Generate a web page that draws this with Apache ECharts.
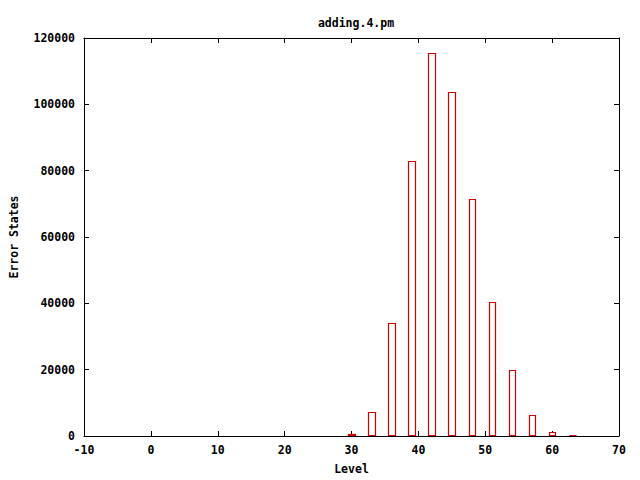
<!DOCTYPE html>
<html><head><meta charset="utf-8">
<script src="https://cdn.jsdelivr.net/npm/echarts@6/dist/echarts.min.js"></script>
<style>html,body{margin:0;padding:0;background:#fff}#c{width:640px;height:480px}</style>
</head><body><div id="c"></div>
<script>
const levels = [30, 33, 36, 39, 42, 45, 48, 51, 54, 57, 60, 63];
const errorStates = [500, 7100, 34000, 83000, 115600, 103700, 71500, 40300, 20000, 6300, 1100, 300];
const xTicks = [-10, 0, 10, 20, 30, 40, 50, 60, 70];
const yTicks = [0, 20000, 40000, 60000, 80000, 100000, 120000];
const titleText = 'adding.4.pm';
const xName = 'Level';
const yName = 'Error States';

const font = 'DejaVu Sans Mono';
const txt = {color:'#000', fontFamily:font, fontWeight:'bold', fontSize:11.5};
const chart = echarts.init(document.getElementById('c'), null, {renderer:'svg'});
const axLine = {show:true, onZero:false, lineStyle:{color:'#000', width:1}};
const tick = {show:true, inside:true, length:5, lineStyle:{color:'#000'}};
const plain = v => String(v);
chart.setOption({
  animation:false,
  backgroundColor:'#fff',
  title:{text:titleText, left:351, top:12, textAlign:'center', textStyle:Object.assign({}, txt)},
  grid:{left:83, right:21, top:38, bottom:40, containLabel:false},
  xAxis:[
    {type:'value', position:'bottom', min:xTicks[0], max:xTicks[xTicks.length-1], interval:10,
     axisLine:axLine, axisTick:tick, splitLine:{show:false},
     axisLabel:Object.assign({margin:8, formatter:plain}, txt),
     name:xName, nameLocation:'middle', nameGap:27, nameTextStyle:Object.assign({}, txt)},
    {type:'value', position:'top', min:xTicks[0], max:xTicks[xTicks.length-1], interval:10,
     axisLine:axLine, axisTick:tick, splitLine:{show:false}, axisLabel:{show:false}}
  ],
  yAxis:[
    {type:'value', position:'left', min:yTicks[0], max:yTicks[yTicks.length-1], interval:20000,
     axisLine:axLine, axisTick:tick, splitLine:{show:false},
     axisLabel:Object.assign({margin:9, formatter:plain}, txt),
     name:yName, nameLocation:'middle', nameGap:64, nameRotate:90, nameTextStyle:Object.assign({}, txt)},
    {type:'value', position:'right', min:yTicks[0], max:yTicks[yTicks.length-1], interval:20000,
     axisLine:axLine, axisTick:tick, splitLine:{show:false}, axisLabel:{show:false}}
  ],
  series:[{
    type:'custom',
    xAxisIndex:0, yAxisIndex:0,
    z:5,
    data: levels.map((l,i)=>[l, errorStates[i]]),
    renderItem:function(params, api){
      const x = api.value(0), y = api.value(1);
      const p0 = api.coord([x-0.5, 0]);
      const p1 = api.coord([x+0.5, y]);
      const x0 = Math.round(p0[0])+0.5, x1 = Math.round(p1[0])+0.5;
      const yb = Math.round(p0[1])-0.5, yt = Math.round(p1[1])+0.5;
      return {type:'rect', shape:{x:x0, y:yt, width:x1-x0, height:yb-yt},
        style:{fill:'#ffffff', stroke:'#d00000', lineWidth:1.2}};
    }
  }]
});
</script></body></html>
